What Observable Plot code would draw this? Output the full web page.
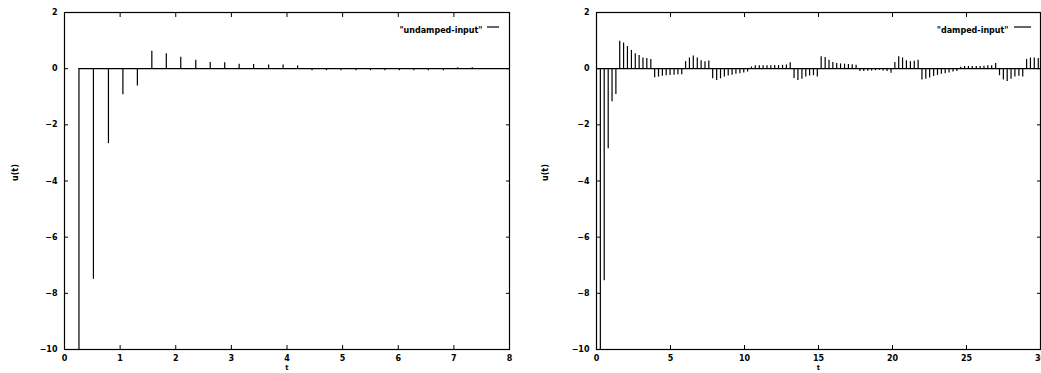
<!DOCTYPE html>
<html>
<head>
<meta charset="utf-8">
<script src="https://cdn.jsdelivr.net/npm/d3@7"></script>
<script src="https://cdn.jsdelivr.net/npm/@observablehq/plot@0.6"></script>
<style>
  html, body { margin: 0; padding: 0; background: #fff; }
  #wrap { display: flex; width: 1041px; height: 373px; overflow: hidden; }
  svg { display: block; }
</style>
</head>
<body>
<div id="wrap"></div>
<script>
// ---- data ----
const leftLabel = "\"undamped-input\"";
const rightLabel = "\"damped-input\"";
const yLabel = "u(t)";
const xLabel = "t";

const leftXTicks = [0, 1, 2, 3, 4, 5, 6, 7, 8];
const rightXTicks = [0, 5, 10, 15, 20, 25, 30];
const yTicks = [2, 0, -2, -4, -6, -8, -10];

const sampleT = [0, 0.26, 0.52, 0.79, 1.05, 1.31, 1.57, 1.83, 2.09, 2.36, 2.62, 2.88, 3.14, 3.40, 3.67, 3.93,
  4.19, 4.45, 4.71, 4.97, 5.24, 5.50, 5.76, 6.02, 6.28, 6.54, 6.81, 7.07, 7.33, 7.59, 7.85, 8.12, 8.38, 8.64,
  8.90, 9.16, 9.42, 9.69, 9.95, 10.21, 10.47, 10.73, 11.00, 11.26, 11.52, 11.78, 12.04, 12.30, 12.57, 12.83,
  13.09, 13.35, 13.61, 13.88, 14.14, 14.40, 14.66, 14.92, 15.18, 15.45, 15.71, 15.97, 16.23, 16.49, 16.76,
  17.02, 17.28, 17.54, 17.80, 18.06, 18.33, 18.59, 18.85, 19.11, 19.37, 19.63, 19.90, 20.16, 20.42, 20.68,
  20.94, 21.21, 21.47, 21.73, 21.99, 22.25, 22.51, 22.78, 23.04, 23.30, 23.56, 23.82, 24.09, 24.35, 24.61,
  24.87, 25.13, 25.39, 25.66, 25.92, 26.18, 26.44, 26.70, 26.97, 27.23, 27.49, 27.75, 28.01, 28.27, 28.54,
  28.80, 29.06, 29.32, 29.58, 29.85];

// undamped input: samples 1..30
const leftT = sampleT.slice(1, 31);
const leftU = [-10, -7.5, -2.67, -0.93, -0.62, 0.62, 0.53, 0.41, 0.30, 0.22, 0.21, 0.16, 0.15, 0.13, 0.13, 0.10,
  -0.07, -0.07, -0.07, -0.07, -0.07, -0.07, -0.07, -0.07, -0.07, -0.07, 0.03, 0.03, 0, 0];

// damped input: samples 0..114
const rightT = sampleT;
const rightU = [0, -10, -7.55, -2.85, -1.18, -0.92,
  0.98, 0.91, 0.79, 0.65, 0.53, 0.47, 0.38, 0.36, 0.33,
  -0.32, -0.30, -0.27, -0.25, -0.24, -0.23, -0.22, -0.22,
  0.25, 0.38, 0.45, 0.38, 0.28, 0.25, 0.27,
  -0.36, -0.42, -0.36, -0.30, -0.26, -0.23, -0.20, -0.18, -0.15, -0.12,
  0.06, 0.10, 0.10, 0.10, 0.10, 0.10, 0.11, 0.11, 0.12, 0.13, 0.21,
  -0.35, -0.42, -0.38, -0.30, -0.26, -0.25, -0.30,
  0.42, 0.40, 0.30, 0.22, 0.18, 0.17, 0.16, 0.15, 0.14, 0.12,
  -0.10, -0.10, -0.09, -0.08, -0.07, -0.06, -0.08, -0.10, -0.16,
  0.22, 0.42, 0.38, 0.28, 0.25, 0.26, 0.30,
  -0.40, -0.38, -0.33, -0.28, -0.24, -0.20, -0.18, -0.15, -0.12, -0.10,
  0.05, 0.08, 0.08, 0.08, 0.08, 0.08, 0.09, 0.10, 0.10, 0.18,
  -0.25, -0.40, -0.46, -0.38, -0.30, -0.27, -0.30,
  0.33, 0.38, 0.38, 0.36];

// ---- drawing ----
const FONT = "DejaVu Sans";

function panel({t, u, xTicks, label, width, marginLeft, marginRight, legendDx, lineFrom, lineTo, yLabelDx}) {
  const data = t.map((tt, i) => ({t: tt, u: u[i]}));
  const xDomain = [xTicks[0], xTicks[xTicks.length - 1]];
  const marginTop = 12, marginBottom = 24, height = 373;
  const chart = Plot.plot({
    width, height, marginLeft, marginRight, marginTop, marginBottom,
    style: {fontFamily: FONT, fontSize: "8px", fontWeight: "bold", background: "#fff", color: "#000", overflow: "visible"},
    x: {domain: xDomain, axis: null},
    y: {domain: [yTicks[yTicks.length - 1], yTicks[0]], axis: null},
    marks: [
      Plot.ruleY([0], {x1: t[0], x2: xDomain[1], stroke: "#000", strokeWidth: 1.3}),
      Plot.ruleX(data, {x: "t", y1: 0, y2: "u", stroke: "#000", strokeWidth: 1.2, clip: true}),
      Plot.frame({stroke: "#000", strokeWidth: 1.2}),
      Plot.axisX(xTicks, {anchor: "bottom", tickSize: 0, tickPadding: 6, label: null, fontWeight: "bold"}),
      Plot.axisX(xTicks, {anchor: "bottom", tickSize: -4, tickFormat: () => "", label: null}),
      Plot.axisX(xTicks, {anchor: "top", tickSize: -4, tickFormat: () => "", label: null}),
      Plot.axisY(yTicks, {anchor: "left", tickSize: 0, tickPadding: 7, label: null, fontWeight: "bold"}),
      Plot.axisY(yTicks, {anchor: "left", tickSize: -4, tickFormat: () => "", label: null}),
      Plot.axisY(yTicks, {anchor: "right", tickSize: -4, tickFormat: () => "", label: null}),
      Plot.text([yLabel], {frameAnchor: "left", dx: yLabelDx, rotate: -90, fontWeight: "bold", fontSize: 8}),
      Plot.text([xLabel], {frameAnchor: "bottom", dy: 20, fontWeight: "bold", fontSize: 7}),
      Plot.text([label], {frameAnchor: "top-right", textAnchor: "end", dx: legendDx, dy: 15, fontWeight: "bold", fontSize: 8})
    ]
  });
  const svg = d3.select(chart);
  const right = width - marginRight;
  svg.append("line")
    .attr("x1", right + lineFrom).attr("x2", right + lineTo)
    .attr("y1", marginTop + 15).attr("y2", marginTop + 15)
    .attr("stroke", "#000").attr("stroke-width", 1.2);
  return chart;
}

const wrap = document.getElementById("wrap");
wrap.appendChild(panel({t: leftT, u: leftU, xTicks: leftXTicks, label: leftLabel, width: 520,
  marginLeft: 64, marginRight: 11, legendDx: -27, lineFrom: -22, lineTo: -10, yLabelDx: -49}));
wrap.appendChild(panel({t: rightT, u: rightU, xTicks: rightXTicks, label: rightLabel, width: 521,
  marginLeft: 76, marginRight: 1, legendDx: -32, lineFrom: -26, lineTo: -9, yLabelDx: -51}));
</script>
</body>
</html>
